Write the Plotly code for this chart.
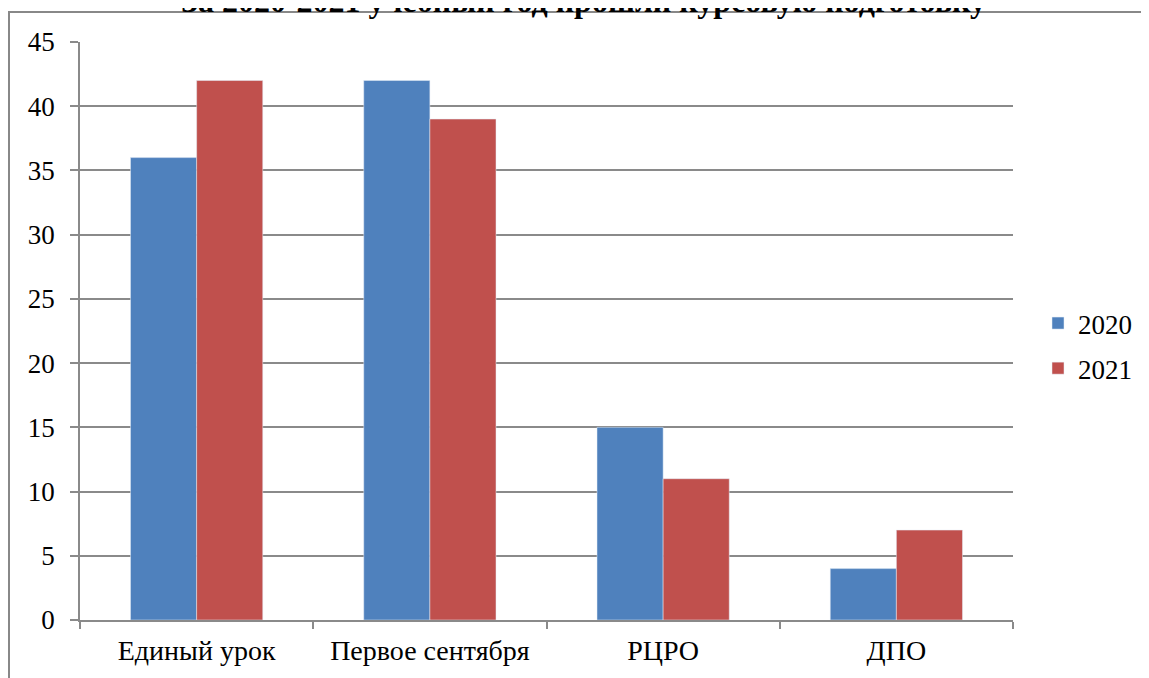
import plotly.graph_objects as go

categories = ["Единый урок", "Первое сентября", "РЦРО", "ДПО"]
values_2020 = [36, 42, 15, 4]
values_2021 = [42, 39, 11, 7]
series_names = ["2020", "2021"]
title_text = "За 2020-2021 учебный год прошли курсовую подготовку"

OFF = 8  # page body offset
W, H = 1149 - OFF, 678 - OFF
ml, mt = 80 - OFF, 42 - OFF
pw, ph = 933, 578
mr = W - ml - pw
mb = H - mt - ph

def px(x_ref):
    return (x_ref - OFF - ml) / pw

def py(y_ref):
    return 1 - (y_ref - OFF - mt) / ph

def cx(x_ref):
    return (x_ref - OFF) / W

def cy(y_ref):
    return 1 - (y_ref - OFF) / H

serif = "Liberation Serif, DejaVu Serif, serif"
font = dict(family=serif, size=27, color="black")
grid = "#8a8a8a"

fig = go.Figure()
fig.add_trace(go.Bar(name=series_names[0], x=categories, y=values_2020,
                     marker_color="#4F81BD", legendgroup="a"))
fig.add_trace(go.Bar(name=series_names[1], x=categories, y=values_2021,
                     marker_color="#C0504D", legendgroup="b"))

fig.update_layout(
    width=W, height=H,
    margin=dict(l=ml, r=mr, t=mt, b=mb, pad=0),
    paper_bgcolor="white", plot_bgcolor="white",
    barmode="group", bargap=0.433, bargroupgap=0,
    font=font,
    showlegend=True,
    legend=dict(xref="container", yref="container", x=cx(1038), y=cy(346),
                xanchor="left", yanchor="middle",
                font=dict(size=27), tracegroupgap=7, bgcolor="rgba(0,0,0,0)"),
    xaxis=dict(showgrid=False, showline=True, linecolor=grid, linewidth=1.5,
               ticks="outside", tickson="boundaries", ticklen=7, tickcolor=grid,
               tickwidth=1.5, range=[-0.5, 3.5], tickfont=dict(size=28),
               ticklabelstandoff=5, automargin=False),
    yaxis=dict(range=[0, 45], dtick=5, showgrid=True, gridcolor=grid, gridwidth=1.5,
               showline=True, linecolor=grid, linewidth=1.5, ticks="outside", ticklen=8,
               tickcolor=grid, tickwidth=1.5, zeroline=False, tickfont=dict(size=27),
               ticklabelstandoff=10, automargin=False),
    shapes=[dict(type="rect", xref="paper", yref="paper",
                 x0=px(9), x1=px(1170), y0=py(700), y1=py(12),
                 line=dict(color="#888888", width=2), fillcolor="rgba(0,0,0,0)")],
    annotations=[dict(text="<b>" + title_text + "</b>", xref="paper", yref="paper",
                      x=px(583), y=py(1), xanchor="center", yanchor="middle",
                      showarrow=False, font=dict(size=32, family=serif))],
)

fig.write_html("out.html")
